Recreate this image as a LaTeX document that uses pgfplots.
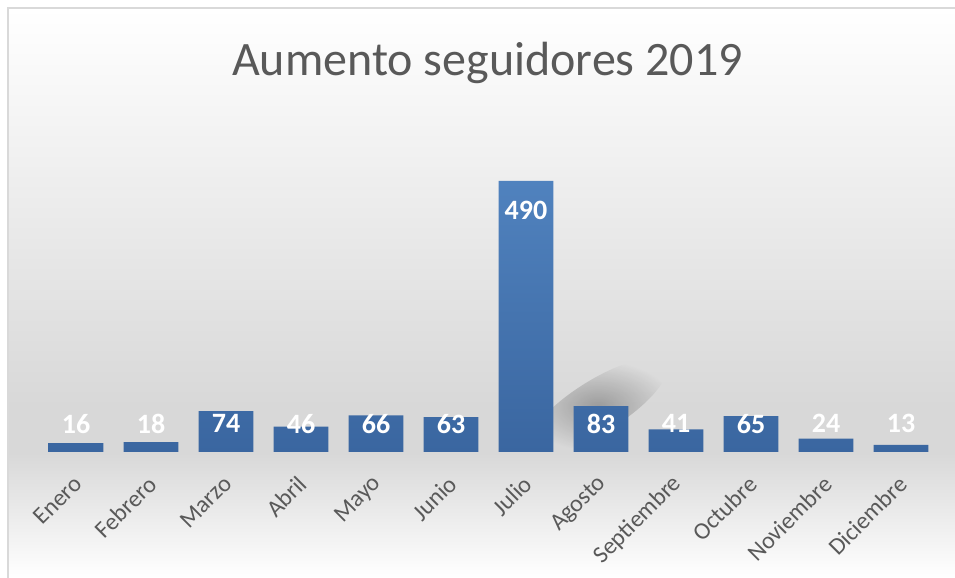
\documentclass[border=0pt]{standalone}
\usepackage{pgfplots}
\pgfplotsset{compat=1.18}
\usepackage{pgfplotstable}
\usetikzlibrary{fadings}
\usepackage{fontspec}
\setmainfont{Carlito}
\definecolor{bartop}{RGB}{80,130,190}
\definecolor{barbot}{RGB}{58,102,160}
\definecolor{txtgray}{RGB}{89,89,89}
\definecolor{bggray}{RGB}{216,216,216}
\definecolor{bordergray}{RGB}{217,217,217}
\pgfdeclareverticalshading{chartbg}{100bp}{color(0bp)=(white); color(25bp)=(white); color(36bp)=(bggray); color(40bp)=(bggray); color(75bp)=(white); color(100bp)=(white)}
\tikzfading[name=softblob, inner color=transparent!0, outer color=transparent!100]
\pgfplotstableread{
x v ly
0 16 51
1 18 51
2 74 51
3 46 51
4 66 51
5 63 51
6 490 436
7 83 51
8 41 51
9 65 51
10 24 51
11 13 51
}\seguidores
\begin{document}
\begin{tikzpicture}[x=1pt,y=1pt]
\useasboundingbox (0,0) rectangle (477.5,289);
\shade[shading=chartbg] (4,0) rectangle (477.5,285);
\draw[bordergray, line width=1.1pt] (4,-1) -- (4,285) -- (478.5,285);
\node[anchor=base, text=txtgray, font=\fontsize{24}{28}\selectfont] at (243.75,251) {Aumento seguidores 2019};
% soft perspective shadow behind the Agosto bar
\fill[black, opacity=0.28, path fading=softblob, fit fading=true] [rotate around={32:(299,86)}] (299,86) ellipse [x radius=40, y radius=13];
\begin{axis}[
  at={(19.25pt,63pt)}, anchor=south west,
  width=450pt, height=166pt, scale only axis,
  xmin=-0.5, xmax=11.5, ymin=0, ymax=600,
  axis line style={draw=none},
  ymajorticks=false,
  xtick={0,...,11},
  xticklabels={Enero,Febrero,Marzo,Abril,Mayo,Junio,Julio,Agosto,Septiembre,Octubre,Noviembre,Diciembre},
  major tick length=0pt,
  xticklabel shift=14pt,
  xticklabel style={xshift=1pt, rotate=45, anchor=east, inner sep=0pt, text=txtgray, font=\fontsize{12}{14}\selectfont},
  clip=false,
  /pgf/number format/assume math mode=true,
]
\addplot[ybar, bar width=0.733, draw=none, top color=bartop, bottom color=barbot] table[x=x, y=v] {\seguidores};
\addplot[draw=none, mark=none, nodes near coords, point meta=explicit,
  every node near coord/.append style={anchor=center, text=white, font=\bfseries\fontsize{14}{16}\selectfont}]
  table[x=x, y=ly, meta=v] {\seguidores};
\end{axis}
\end{tikzpicture}
\end{document}
